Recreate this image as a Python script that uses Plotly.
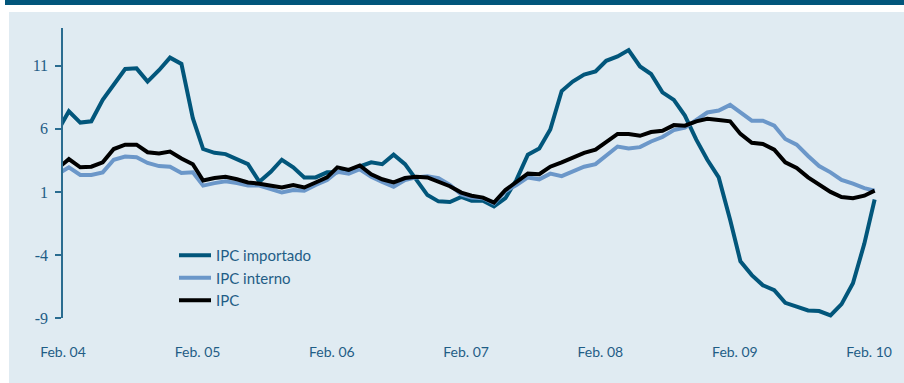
import pandas as pd
import plotly.graph_objects as go

# Monthly series, Feb 2004 onwards (year-on-year %, CPI components)
months = pd.date_range("2004-02-01", periods=74, freq="MS")

importado = [
    5.9, 7.4, 6.5, 6.6, 8.3, 9.5, 10.75, 10.8, 9.75, 10.65, 11.65, 11.15,
    6.85, 4.4, 4.1, 4.0, 3.6, 3.2, 1.8, 2.6, 3.55, 2.95, 2.15, 2.15,
    2.55, 2.55, 2.7, 3.0, 3.35, 3.2, 3.95, 3.2, 1.95, 0.75, 0.25, 0.2,
    0.6, 0.3, 0.3, -0.15, 0.5, 1.95, 3.95, 4.45, 5.95, 9.0, 9.75, 10.3,
    10.55, 11.4, 11.75, 12.25, 10.95, 10.35, 8.9, 8.3, 7.05, 5.15, 3.55, 2.15,
    -1.2, -4.5, -5.6, -6.4, -6.8, -7.8, -8.1, -8.4, -8.45, -8.8, -7.9, -6.25,
    -3.1, 0.4,
]

interno = [
    2.45, 2.95, 2.35, 2.35, 2.55, 3.55, 3.8, 3.75, 3.3, 3.05, 3.0, 2.5,
    2.55, 1.5, 1.7, 1.85, 1.7, 1.5, 1.5, 1.2, 0.95, 1.15, 1.1, 1.55,
    1.95, 2.6, 2.45, 2.8, 2.2, 1.8, 1.4, 1.95, 2.15, 2.25, 2.1, 1.55,
    0.8, 0.55, 0.5, 0.1, 1.05, 1.55, 2.15, 2.0, 2.45, 2.25, 2.6, 3.0,
    3.2, 3.85, 4.6, 4.45, 4.55, 5.0, 5.35, 5.9, 6.1, 6.7, 7.3, 7.45,
    7.9, 7.3, 6.65, 6.65, 6.25, 5.2, 4.75, 3.85, 3.05, 2.55, 1.95, 1.65,
    1.3, 1.1,
]

ipc = [
    2.9, 3.6, 2.95, 3.0, 3.35, 4.4, 4.75, 4.75, 4.15, 4.05, 4.2, 3.65,
    3.2, 1.9, 2.1, 2.2, 2.0, 1.75, 1.65, 1.5, 1.35, 1.55, 1.35, 1.75,
    2.15, 2.95, 2.75, 3.1, 2.4, 2.0, 1.75, 2.1, 2.2, 2.15, 1.8, 1.45,
    0.95, 0.7, 0.55, 0.15, 1.15, 1.75, 2.45, 2.4, 3.0, 3.35, 3.75, 4.1,
    4.35, 5.0, 5.6, 5.6, 5.45, 5.75, 5.85, 6.3, 6.25, 6.6, 6.8, 6.7,
    6.6, 5.6, 4.9, 4.8, 4.35, 3.35, 2.9, 2.15, 1.55, 1.0, 0.6, 0.5,
    0.7, 1.1,
]

y_ticks = [-9, -4, 1, 6, 11]
y_tick_text = ["-9", "-4", "1", "6", "11"]
x_tick_dates = [f"{y}-02-14" for y in range(2004, 2011)]
x_tick_text = ["Feb. 04", "Feb. 05", "Feb. 06", "Feb. 07", "Feb. 08", "Feb. 09", "Feb. 10"]
x_range = ["2004-02-14", "2010-03-21"]
y_range = [-9, 14]

TEAL = "#02567b"
LIGHT = "#6b97c9"
TEXT = "#1f5d86"
AXIS = "#2a6c90"
PANEL = "#e0ebf2"

fig = go.Figure()
fig.add_trace(go.Scatter(x=months, y=importado, name="IPC importado", mode="lines",
                         line=dict(color=TEAL, width=4)))
fig.add_trace(go.Scatter(x=months, y=interno, name="IPC interno", mode="lines",
                         line=dict(color=LIGHT, width=4)))
fig.add_trace(go.Scatter(x=months, y=ipc, name="IPC", mode="lines",
                         line=dict(color="#000000", width=4)))

W, H = 904, 383
ml, mr, mt, mb = 63, 22, 28, 65
pw, ph = W - ml - mr, H - mt - mb


def px_x(p):
    return (p - ml) / pw


def px_y(p):
    return (H - mb - p) / ph


shapes = [
    # light panel behind the chart
    dict(type="rect", xref="paper", yref="paper", layer="below",
         x0=px_x(9), x1=px_x(W + 2), y0=px_y(H + 2), y1=px_y(12),
         fillcolor=PANEL, line=dict(width=0)),
    # dark band across the top
    dict(type="rect", xref="paper", yref="paper", layer="below",
         x0=px_x(5), x1=px_x(W + 2), y0=px_y(5), y1=px_y(-2),
         fillcolor=TEAL, line=dict(width=0)),
]

zero_pos = (0 - y_range[0]) / (y_range[1] - y_range[0])

fig.update_layout(
    width=W, height=H,
    margin=dict(l=ml, r=mr, t=mt, b=mb),
    paper_bgcolor="white",
    plot_bgcolor="rgba(0,0,0,0)",
    shapes=shapes,
    showlegend=True,
    legend=dict(
        x=px_x(174), y=px_y(239), xanchor="left", yanchor="top",
        bgcolor="rgba(0,0,0,0)", borderwidth=0,
        font=dict(family="Lato", size=15, color=TEXT),
        itemwidth=32, tracegroupgap=0,
    ),
    xaxis=dict(
        range=x_range, tickvals=x_tick_dates, ticktext=x_tick_text,
        showline=False, showgrid=False, zeroline=False,
        ticks="outside", ticklen=21, tickcolor="rgba(0,0,0,0)",
        tickfont=dict(family="Lato", size=14, color=TEXT),
    ),
    xaxis2=dict(
        overlaying="x", anchor="free", position=zero_pos, side="bottom",
        range=x_range, tickvals=x_tick_dates, showticklabels=False,
        showline=True, linecolor=AXIS, linewidth=1.5,
        showgrid=False, zeroline=False,
        ticks="outside", ticklen=4, tickwidth=1.5, tickcolor=AXIS,
    ),
    yaxis=dict(
        range=y_range, tickvals=y_ticks, ticktext=y_tick_text,
        showline=True, linecolor=AXIS, linewidth=1.5,
        showgrid=False, zeroline=False,
        ticks="outside", ticklen=6, tickwidth=1.5, tickcolor=AXIS,
        ticklabelstandoff=4,
        tickfont=dict(family="Liberation Serif, Times New Roman, serif", size=16, color=TEXT),
    ),
)

fig.write_html("out.html")
